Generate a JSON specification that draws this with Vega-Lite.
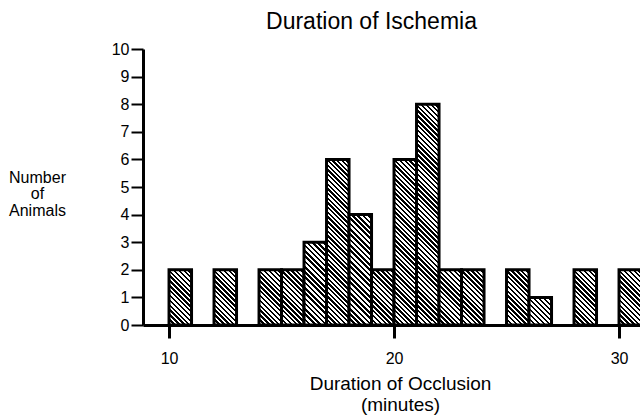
{
  "$schema": "https://vega.github.io/schema/vega-lite/v6.json",
  "width": 497,
  "height": 276,
  "autosize": {"type": "none"},
  "padding": {"left": 143, "top": 49, "right": 0, "bottom": 93},
  "background": "white",
  "config": {"view": {"stroke": null}, "font": "Liberation Sans"},
  "title": {"text": "Duration of Ischemia", "fontSize": 23, "fontWeight": "normal", "color": "black", "anchor": "middle", "dx": -20, "dy": 30, "offset": 14, "baseline": "bottom"},
  "data": {"values": [
    {"start": 10, "end": 11, "n": 2},
    {"start": 12, "end": 13, "n": 2},
    {"start": 14, "end": 15, "n": 2},
    {"start": 15, "end": 16, "n": 2},
    {"start": 16, "end": 17, "n": 3},
    {"start": 17, "end": 18, "n": 6},
    {"start": 18, "end": 19, "n": 4},
    {"start": 19, "end": 20, "n": 2},
    {"start": 20, "end": 21, "n": 6},
    {"start": 21, "end": 22, "n": 8},
    {"start": 22, "end": 23, "n": 2},
    {"start": 23, "end": 24, "n": 2},
    {"start": 25, "end": 26, "n": 2},
    {"start": 26, "end": 27, "n": 1},
    {"start": 28, "end": 29, "n": 2},
    {"start": 30, "end": 31, "n": 2}
  ]},
  "mark": {"type": "bar", "stroke": "black", "strokeWidth": 3, "strokeJoin": "miter"},
  "encoding": {
    "x": {
      "field": "start", "type": "quantitative",
      "scale": {"domain": [8.843, 30.932], "nice": false, "zero": false},
      "axis": {"values": [10, 20, 30], "title": ["Duration of Occlusion", "(minutes)"], "grid": false,
        "domainColor": "black", "domainWidth": 3, "tickColor": "black", "tickWidth": 3, "tickSize": 13,
        "labelFontSize": 16, "labelColor": "black", "labelPadding": 12, "labelFlush": false,
        "titleFontSize": 19, "titleFontWeight": "normal", "titleColor": "black",
        "titleX": 257, "titleY": 49, "titleBaseline": "top", "titleAlign": "center", "titleAnchor": null, "titleLineHeight": 21}
    },
    "x2": {"field": "end"},
    "y": {
      "field": "n", "type": "quantitative",
      "scale": {"domain": [0, 10], "nice": false},
      "axis": {"values": [0, 1, 2, 3, 4, 5, 6, 7, 8, 9, 10], "title": ["Number", "of", "Animals"], "grid": false,
        "domainColor": "black", "domainWidth": 3, "tickColor": "black", "tickWidth": 2, "tickSize": 12,
        "labelFontSize": 16, "labelColor": "black", "labelPadding": 2,
        "titleFontSize": 16, "titleFontWeight": "normal", "titleColor": "black", "titleAngle": 0,
        "titleX": -106, "titleY": 120, "titleBaseline": "top", "titleAlign": "center", "titleLineHeight": 16.5}
    },
    "y2": {"datum": 0},
    "fill": {
      "condition": [
        {"test": "datum.n === 1", "value": {"gradient": "linear", "x1": 0, "y1": 1, "x2": 0.889, "y2": -0.0905, "stops": [
          {"offset":0,"color":"#000"},
          {"offset":0.05,"color":"#000"},{"offset":0.05,"color":"#fff"},
          {"offset":0.1,"color":"#fff"},{"offset":0.1,"color":"#000"},
          {"offset":0.15,"color":"#000"},{"offset":0.15,"color":"#fff"},
          {"offset":0.2,"color":"#fff"},{"offset":0.2,"color":"#000"},
          {"offset":0.25,"color":"#000"},{"offset":0.25,"color":"#fff"},
          {"offset":0.3,"color":"#fff"},{"offset":0.3,"color":"#000"},
          {"offset":0.35,"color":"#000"},{"offset":0.35,"color":"#fff"},
          {"offset":0.4,"color":"#fff"},{"offset":0.4,"color":"#000"},
          {"offset":0.45,"color":"#000"},{"offset":0.45,"color":"#fff"},
          {"offset":0.5,"color":"#fff"},{"offset":0.5,"color":"#000"},
          {"offset":0.55,"color":"#000"},{"offset":0.55,"color":"#fff"},
          {"offset":0.6,"color":"#fff"},{"offset":0.6,"color":"#000"},
          {"offset":0.65,"color":"#000"},{"offset":0.65,"color":"#fff"},
          {"offset":0.7,"color":"#fff"},{"offset":0.7,"color":"#000"},
          {"offset":0.75,"color":"#000"},{"offset":0.75,"color":"#fff"},
          {"offset":0.8,"color":"#fff"},{"offset":0.8,"color":"#000"},
          {"offset":0.85,"color":"#000"},{"offset":0.85,"color":"#fff"},
          {"offset":0.9,"color":"#fff"},{"offset":0.9,"color":"#000"},
          {"offset":0.95,"color":"#000"},{"offset":0.95,"color":"#fff"},
          {"offset":1,"color":"#fff"}
        ]}},
        {"test": "datum.n === 3", "value": {"gradient": "linear", "x1": 0, "y1": 1, "x2": 0.3218, "y2": -0.1843, "stops": [
          {"offset":0,"color":"#000"},
          {"offset":0.025,"color":"#000"},{"offset":0.025,"color":"#fff"},
          {"offset":0.05,"color":"#fff"},{"offset":0.05,"color":"#000"},
          {"offset":0.075,"color":"#000"},{"offset":0.075,"color":"#fff"},
          {"offset":0.1,"color":"#fff"},{"offset":0.1,"color":"#000"},
          {"offset":0.125,"color":"#000"},{"offset":0.125,"color":"#fff"},
          {"offset":0.15,"color":"#fff"},{"offset":0.15,"color":"#000"},
          {"offset":0.175,"color":"#000"},{"offset":0.175,"color":"#fff"},
          {"offset":0.2,"color":"#fff"},{"offset":0.2,"color":"#000"},
          {"offset":0.225,"color":"#000"},{"offset":0.225,"color":"#fff"},
          {"offset":0.25,"color":"#fff"},{"offset":0.25,"color":"#000"},
          {"offset":0.275,"color":"#000"},{"offset":0.275,"color":"#fff"},
          {"offset":0.3,"color":"#fff"},{"offset":0.3,"color":"#000"},
          {"offset":0.325,"color":"#000"},{"offset":0.325,"color":"#fff"},
          {"offset":0.35,"color":"#fff"},{"offset":0.35,"color":"#000"},
          {"offset":0.375,"color":"#000"},{"offset":0.375,"color":"#fff"},
          {"offset":0.4,"color":"#fff"},{"offset":0.4,"color":"#000"},
          {"offset":0.425,"color":"#000"},{"offset":0.425,"color":"#fff"},
          {"offset":0.45,"color":"#fff"},{"offset":0.45,"color":"#000"},
          {"offset":0.475,"color":"#000"},{"offset":0.475,"color":"#fff"},
          {"offset":0.5,"color":"#fff"},{"offset":0.5,"color":"#000"},
          {"offset":0.525,"color":"#000"},{"offset":0.525,"color":"#fff"},
          {"offset":0.55,"color":"#fff"},{"offset":0.55,"color":"#000"},
          {"offset":0.575,"color":"#000"},{"offset":0.575,"color":"#fff"},
          {"offset":0.6,"color":"#fff"},{"offset":0.6,"color":"#000"},
          {"offset":0.625,"color":"#000"},{"offset":0.625,"color":"#fff"},
          {"offset":0.65,"color":"#fff"},{"offset":0.65,"color":"#000"},
          {"offset":0.675,"color":"#000"},{"offset":0.675,"color":"#fff"},
          {"offset":0.7,"color":"#fff"},{"offset":0.7,"color":"#000"},
          {"offset":0.725,"color":"#000"},{"offset":0.725,"color":"#fff"},
          {"offset":0.75,"color":"#fff"},{"offset":0.75,"color":"#000"},
          {"offset":0.775,"color":"#000"},{"offset":0.775,"color":"#fff"},
          {"offset":0.8,"color":"#fff"},{"offset":0.8,"color":"#000"},
          {"offset":0.825,"color":"#000"},{"offset":0.825,"color":"#fff"},
          {"offset":0.85,"color":"#fff"},{"offset":0.85,"color":"#000"},
          {"offset":0.875,"color":"#000"},{"offset":0.875,"color":"#fff"},
          {"offset":0.9,"color":"#fff"},{"offset":0.9,"color":"#000"},
          {"offset":0.925,"color":"#000"},{"offset":0.925,"color":"#fff"},
          {"offset":0.95,"color":"#fff"},{"offset":0.95,"color":"#000"},
          {"offset":0.975,"color":"#000"},{"offset":0.975,"color":"#fff"},
          {"offset":1,"color":"#fff"}
        ]}},
        {"test": "datum.n === 4", "value": {"gradient": "linear", "x1": 0, "y1": 1, "x2": 0.2356, "y2": -0.1558, "stops": [
          {"offset":0,"color":"#000"},
          {"offset":0.02,"color":"#000"},{"offset":0.02,"color":"#fff"},
          {"offset":0.04,"color":"#fff"},{"offset":0.04,"color":"#000"},
          {"offset":0.06,"color":"#000"},{"offset":0.06,"color":"#fff"},
          {"offset":0.08,"color":"#fff"},{"offset":0.08,"color":"#000"},
          {"offset":0.1,"color":"#000"},{"offset":0.1,"color":"#fff"},
          {"offset":0.12,"color":"#fff"},{"offset":0.12,"color":"#000"},
          {"offset":0.14,"color":"#000"},{"offset":0.14,"color":"#fff"},
          {"offset":0.16,"color":"#fff"},{"offset":0.16,"color":"#000"},
          {"offset":0.18,"color":"#000"},{"offset":0.18,"color":"#fff"},
          {"offset":0.2,"color":"#fff"},{"offset":0.2,"color":"#000"},
          {"offset":0.22,"color":"#000"},{"offset":0.22,"color":"#fff"},
          {"offset":0.24,"color":"#fff"},{"offset":0.24,"color":"#000"},
          {"offset":0.26,"color":"#000"},{"offset":0.26,"color":"#fff"},
          {"offset":0.28,"color":"#fff"},{"offset":0.28,"color":"#000"},
          {"offset":0.3,"color":"#000"},{"offset":0.3,"color":"#fff"},
          {"offset":0.32,"color":"#fff"},{"offset":0.32,"color":"#000"},
          {"offset":0.34,"color":"#000"},{"offset":0.34,"color":"#fff"},
          {"offset":0.36,"color":"#fff"},{"offset":0.36,"color":"#000"},
          {"offset":0.38,"color":"#000"},{"offset":0.38,"color":"#fff"},
          {"offset":0.4,"color":"#fff"},{"offset":0.4,"color":"#000"},
          {"offset":0.42,"color":"#000"},{"offset":0.42,"color":"#fff"},
          {"offset":0.44,"color":"#fff"},{"offset":0.44,"color":"#000"},
          {"offset":0.46,"color":"#000"},{"offset":0.46,"color":"#fff"},
          {"offset":0.48,"color":"#fff"},{"offset":0.48,"color":"#000"},
          {"offset":0.5,"color":"#000"},{"offset":0.5,"color":"#fff"},
          {"offset":0.52,"color":"#fff"},{"offset":0.52,"color":"#000"},
          {"offset":0.54,"color":"#000"},{"offset":0.54,"color":"#fff"},
          {"offset":0.56,"color":"#fff"},{"offset":0.56,"color":"#000"},
          {"offset":0.58,"color":"#000"},{"offset":0.58,"color":"#fff"},
          {"offset":0.6,"color":"#fff"},{"offset":0.6,"color":"#000"},
          {"offset":0.62,"color":"#000"},{"offset":0.62,"color":"#fff"},
          {"offset":0.64,"color":"#fff"},{"offset":0.64,"color":"#000"},
          {"offset":0.66,"color":"#000"},{"offset":0.66,"color":"#fff"},
          {"offset":0.68,"color":"#fff"},{"offset":0.68,"color":"#000"},
          {"offset":0.7,"color":"#000"},{"offset":0.7,"color":"#fff"},
          {"offset":0.72,"color":"#fff"},{"offset":0.72,"color":"#000"},
          {"offset":0.74,"color":"#000"},{"offset":0.74,"color":"#fff"},
          {"offset":0.76,"color":"#fff"},{"offset":0.76,"color":"#000"},
          {"offset":0.78,"color":"#000"},{"offset":0.78,"color":"#fff"},
          {"offset":0.8,"color":"#fff"},{"offset":0.8,"color":"#000"},
          {"offset":0.82,"color":"#000"},{"offset":0.82,"color":"#fff"},
          {"offset":0.84,"color":"#fff"},{"offset":0.84,"color":"#000"},
          {"offset":0.86,"color":"#000"},{"offset":0.86,"color":"#fff"},
          {"offset":0.88,"color":"#fff"},{"offset":0.88,"color":"#000"},
          {"offset":0.9,"color":"#000"},{"offset":0.9,"color":"#fff"},
          {"offset":0.92,"color":"#fff"},{"offset":0.92,"color":"#000"},
          {"offset":0.94,"color":"#000"},{"offset":0.94,"color":"#fff"},
          {"offset":0.96,"color":"#fff"},{"offset":0.96,"color":"#000"},
          {"offset":0.98,"color":"#000"},{"offset":0.98,"color":"#fff"},
          {"offset":1,"color":"#fff"}
        ]}},
        {"test": "datum.n === 6", "value": {"gradient": "linear", "x1": 0, "y1": 1, "x2": 0.1515, "y2": -0.1153, "stops": [
          {"offset":0,"color":"#000"},
          {"offset":0.0125,"color":"#000"},{"offset":0.0125,"color":"#fff"},
          {"offset":0.025,"color":"#fff"},{"offset":0.025,"color":"#000"},
          {"offset":0.0375,"color":"#000"},{"offset":0.0375,"color":"#fff"},
          {"offset":0.05,"color":"#fff"},{"offset":0.05,"color":"#000"},
          {"offset":0.0625,"color":"#000"},{"offset":0.0625,"color":"#fff"},
          {"offset":0.075,"color":"#fff"},{"offset":0.075,"color":"#000"},
          {"offset":0.0875,"color":"#000"},{"offset":0.0875,"color":"#fff"},
          {"offset":0.1,"color":"#fff"},{"offset":0.1,"color":"#000"},
          {"offset":0.1125,"color":"#000"},{"offset":0.1125,"color":"#fff"},
          {"offset":0.125,"color":"#fff"},{"offset":0.125,"color":"#000"},
          {"offset":0.1375,"color":"#000"},{"offset":0.1375,"color":"#fff"},
          {"offset":0.15,"color":"#fff"},{"offset":0.15,"color":"#000"},
          {"offset":0.1625,"color":"#000"},{"offset":0.1625,"color":"#fff"},
          {"offset":0.175,"color":"#fff"},{"offset":0.175,"color":"#000"},
          {"offset":0.1875,"color":"#000"},{"offset":0.1875,"color":"#fff"},
          {"offset":0.2,"color":"#fff"},{"offset":0.2,"color":"#000"},
          {"offset":0.2125,"color":"#000"},{"offset":0.2125,"color":"#fff"},
          {"offset":0.225,"color":"#fff"},{"offset":0.225,"color":"#000"},
          {"offset":0.2375,"color":"#000"},{"offset":0.2375,"color":"#fff"},
          {"offset":0.25,"color":"#fff"},{"offset":0.25,"color":"#000"},
          {"offset":0.2625,"color":"#000"},{"offset":0.2625,"color":"#fff"},
          {"offset":0.275,"color":"#fff"},{"offset":0.275,"color":"#000"},
          {"offset":0.2875,"color":"#000"},{"offset":0.2875,"color":"#fff"},
          {"offset":0.3,"color":"#fff"},{"offset":0.3,"color":"#000"},
          {"offset":0.3125,"color":"#000"},{"offset":0.3125,"color":"#fff"},
          {"offset":0.325,"color":"#fff"},{"offset":0.325,"color":"#000"},
          {"offset":0.3375,"color":"#000"},{"offset":0.3375,"color":"#fff"},
          {"offset":0.35,"color":"#fff"},{"offset":0.35,"color":"#000"},
          {"offset":0.3625,"color":"#000"},{"offset":0.3625,"color":"#fff"},
          {"offset":0.375,"color":"#fff"},{"offset":0.375,"color":"#000"},
          {"offset":0.3875,"color":"#000"},{"offset":0.3875,"color":"#fff"},
          {"offset":0.4,"color":"#fff"},{"offset":0.4,"color":"#000"},
          {"offset":0.4125,"color":"#000"},{"offset":0.4125,"color":"#fff"},
          {"offset":0.425,"color":"#fff"},{"offset":0.425,"color":"#000"},
          {"offset":0.4375,"color":"#000"},{"offset":0.4375,"color":"#fff"},
          {"offset":0.45,"color":"#fff"},{"offset":0.45,"color":"#000"},
          {"offset":0.4625,"color":"#000"},{"offset":0.4625,"color":"#fff"},
          {"offset":0.475,"color":"#fff"},{"offset":0.475,"color":"#000"},
          {"offset":0.4875,"color":"#000"},{"offset":0.4875,"color":"#fff"},
          {"offset":0.5,"color":"#fff"},{"offset":0.5,"color":"#000"},
          {"offset":0.5125,"color":"#000"},{"offset":0.5125,"color":"#fff"},
          {"offset":0.525,"color":"#fff"},{"offset":0.525,"color":"#000"},
          {"offset":0.5375,"color":"#000"},{"offset":0.5375,"color":"#fff"},
          {"offset":0.55,"color":"#fff"},{"offset":0.55,"color":"#000"},
          {"offset":0.5625,"color":"#000"},{"offset":0.5625,"color":"#fff"},
          {"offset":0.575,"color":"#fff"},{"offset":0.575,"color":"#000"},
          {"offset":0.5875,"color":"#000"},{"offset":0.5875,"color":"#fff"},
          {"offset":0.6,"color":"#fff"},{"offset":0.6,"color":"#000"},
          {"offset":0.6125,"color":"#000"},{"offset":0.6125,"color":"#fff"},
          {"offset":0.625,"color":"#fff"},{"offset":0.625,"color":"#000"},
          {"offset":0.6375,"color":"#000"},{"offset":0.6375,"color":"#fff"},
          {"offset":0.65,"color":"#fff"},{"offset":0.65,"color":"#000"},
          {"offset":0.6625,"color":"#000"},{"offset":0.6625,"color":"#fff"},
          {"offset":0.675,"color":"#fff"},{"offset":0.675,"color":"#000"},
          {"offset":0.6875,"color":"#000"},{"offset":0.6875,"color":"#fff"},
          {"offset":0.7,"color":"#fff"},{"offset":0.7,"color":"#000"},
          {"offset":0.7125,"color":"#000"},{"offset":0.7125,"color":"#fff"},
          {"offset":0.725,"color":"#fff"},{"offset":0.725,"color":"#000"},
          {"offset":0.7375,"color":"#000"},{"offset":0.7375,"color":"#fff"},
          {"offset":0.75,"color":"#fff"},{"offset":0.75,"color":"#000"},
          {"offset":0.7625,"color":"#000"},{"offset":0.7625,"color":"#fff"},
          {"offset":0.775,"color":"#fff"},{"offset":0.775,"color":"#000"},
          {"offset":0.7875,"color":"#000"},{"offset":0.7875,"color":"#fff"},
          {"offset":0.8,"color":"#fff"},{"offset":0.8,"color":"#000"},
          {"offset":0.8125,"color":"#000"},{"offset":0.8125,"color":"#fff"},
          {"offset":0.825,"color":"#fff"},{"offset":0.825,"color":"#000"},
          {"offset":0.8375,"color":"#000"},{"offset":0.8375,"color":"#fff"},
          {"offset":0.85,"color":"#fff"},{"offset":0.85,"color":"#000"},
          {"offset":0.8625,"color":"#000"},{"offset":0.8625,"color":"#fff"},
          {"offset":0.875,"color":"#fff"},{"offset":0.875,"color":"#000"},
          {"offset":0.8875,"color":"#000"},{"offset":0.8875,"color":"#fff"},
          {"offset":0.9,"color":"#fff"},{"offset":0.9,"color":"#000"},
          {"offset":0.9125,"color":"#000"},{"offset":0.9125,"color":"#fff"},
          {"offset":0.925,"color":"#fff"},{"offset":0.925,"color":"#000"},
          {"offset":0.9375,"color":"#000"},{"offset":0.9375,"color":"#fff"},
          {"offset":0.95,"color":"#fff"},{"offset":0.95,"color":"#000"},
          {"offset":0.9625,"color":"#000"},{"offset":0.9625,"color":"#fff"},
          {"offset":0.975,"color":"#fff"},{"offset":0.975,"color":"#000"},
          {"offset":0.9875,"color":"#000"},{"offset":0.9875,"color":"#fff"},
          {"offset":1,"color":"#fff"}
        ]}},
        {"test": "datum.n === 8", "value": {"gradient": "linear", "x1": 0, "y1": 1, "x2": 0.1111, "y2": -0.0906, "stops": [
          {"offset":0,"color":"#000"},
          {"offset":0.01,"color":"#000"},{"offset":0.01,"color":"#fff"},
          {"offset":0.02,"color":"#fff"},{"offset":0.02,"color":"#000"},
          {"offset":0.03,"color":"#000"},{"offset":0.03,"color":"#fff"},
          {"offset":0.04,"color":"#fff"},{"offset":0.04,"color":"#000"},
          {"offset":0.05,"color":"#000"},{"offset":0.05,"color":"#fff"},
          {"offset":0.06,"color":"#fff"},{"offset":0.06,"color":"#000"},
          {"offset":0.07,"color":"#000"},{"offset":0.07,"color":"#fff"},
          {"offset":0.08,"color":"#fff"},{"offset":0.08,"color":"#000"},
          {"offset":0.09,"color":"#000"},{"offset":0.09,"color":"#fff"},
          {"offset":0.1,"color":"#fff"},{"offset":0.1,"color":"#000"},
          {"offset":0.11,"color":"#000"},{"offset":0.11,"color":"#fff"},
          {"offset":0.12,"color":"#fff"},{"offset":0.12,"color":"#000"},
          {"offset":0.13,"color":"#000"},{"offset":0.13,"color":"#fff"},
          {"offset":0.14,"color":"#fff"},{"offset":0.14,"color":"#000"},
          {"offset":0.15,"color":"#000"},{"offset":0.15,"color":"#fff"},
          {"offset":0.16,"color":"#fff"},{"offset":0.16,"color":"#000"},
          {"offset":0.17,"color":"#000"},{"offset":0.17,"color":"#fff"},
          {"offset":0.18,"color":"#fff"},{"offset":0.18,"color":"#000"},
          {"offset":0.19,"color":"#000"},{"offset":0.19,"color":"#fff"},
          {"offset":0.2,"color":"#fff"},{"offset":0.2,"color":"#000"},
          {"offset":0.21,"color":"#000"},{"offset":0.21,"color":"#fff"},
          {"offset":0.22,"color":"#fff"},{"offset":0.22,"color":"#000"},
          {"offset":0.23,"color":"#000"},{"offset":0.23,"color":"#fff"},
          {"offset":0.24,"color":"#fff"},{"offset":0.24,"color":"#000"},
          {"offset":0.25,"color":"#000"},{"offset":0.25,"color":"#fff"},
          {"offset":0.26,"color":"#fff"},{"offset":0.26,"color":"#000"},
          {"offset":0.27,"color":"#000"},{"offset":0.27,"color":"#fff"},
          {"offset":0.28,"color":"#fff"},{"offset":0.28,"color":"#000"},
          {"offset":0.29,"color":"#000"},{"offset":0.29,"color":"#fff"},
          {"offset":0.3,"color":"#fff"},{"offset":0.3,"color":"#000"},
          {"offset":0.31,"color":"#000"},{"offset":0.31,"color":"#fff"},
          {"offset":0.32,"color":"#fff"},{"offset":0.32,"color":"#000"},
          {"offset":0.33,"color":"#000"},{"offset":0.33,"color":"#fff"},
          {"offset":0.34,"color":"#fff"},{"offset":0.34,"color":"#000"},
          {"offset":0.35,"color":"#000"},{"offset":0.35,"color":"#fff"},
          {"offset":0.36,"color":"#fff"},{"offset":0.36,"color":"#000"},
          {"offset":0.37,"color":"#000"},{"offset":0.37,"color":"#fff"},
          {"offset":0.38,"color":"#fff"},{"offset":0.38,"color":"#000"},
          {"offset":0.39,"color":"#000"},{"offset":0.39,"color":"#fff"},
          {"offset":0.4,"color":"#fff"},{"offset":0.4,"color":"#000"},
          {"offset":0.41,"color":"#000"},{"offset":0.41,"color":"#fff"},
          {"offset":0.42,"color":"#fff"},{"offset":0.42,"color":"#000"},
          {"offset":0.43,"color":"#000"},{"offset":0.43,"color":"#fff"},
          {"offset":0.44,"color":"#fff"},{"offset":0.44,"color":"#000"},
          {"offset":0.45,"color":"#000"},{"offset":0.45,"color":"#fff"},
          {"offset":0.46,"color":"#fff"},{"offset":0.46,"color":"#000"},
          {"offset":0.47,"color":"#000"},{"offset":0.47,"color":"#fff"},
          {"offset":0.48,"color":"#fff"},{"offset":0.48,"color":"#000"},
          {"offset":0.49,"color":"#000"},{"offset":0.49,"color":"#fff"},
          {"offset":0.5,"color":"#fff"},{"offset":0.5,"color":"#000"},
          {"offset":0.51,"color":"#000"},{"offset":0.51,"color":"#fff"},
          {"offset":0.52,"color":"#fff"},{"offset":0.52,"color":"#000"},
          {"offset":0.53,"color":"#000"},{"offset":0.53,"color":"#fff"},
          {"offset":0.54,"color":"#fff"},{"offset":0.54,"color":"#000"},
          {"offset":0.55,"color":"#000"},{"offset":0.55,"color":"#fff"},
          {"offset":0.56,"color":"#fff"},{"offset":0.56,"color":"#000"},
          {"offset":0.57,"color":"#000"},{"offset":0.57,"color":"#fff"},
          {"offset":0.58,"color":"#fff"},{"offset":0.58,"color":"#000"},
          {"offset":0.59,"color":"#000"},{"offset":0.59,"color":"#fff"},
          {"offset":0.6,"color":"#fff"},{"offset":0.6,"color":"#000"},
          {"offset":0.61,"color":"#000"},{"offset":0.61,"color":"#fff"},
          {"offset":0.62,"color":"#fff"},{"offset":0.62,"color":"#000"},
          {"offset":0.63,"color":"#000"},{"offset":0.63,"color":"#fff"},
          {"offset":0.64,"color":"#fff"},{"offset":0.64,"color":"#000"},
          {"offset":0.65,"color":"#000"},{"offset":0.65,"color":"#fff"},
          {"offset":0.66,"color":"#fff"},{"offset":0.66,"color":"#000"},
          {"offset":0.67,"color":"#000"},{"offset":0.67,"color":"#fff"},
          {"offset":0.68,"color":"#fff"},{"offset":0.68,"color":"#000"},
          {"offset":0.69,"color":"#000"},{"offset":0.69,"color":"#fff"},
          {"offset":0.7,"color":"#fff"},{"offset":0.7,"color":"#000"},
          {"offset":0.71,"color":"#000"},{"offset":0.71,"color":"#fff"},
          {"offset":0.72,"color":"#fff"},{"offset":0.72,"color":"#000"},
          {"offset":0.73,"color":"#000"},{"offset":0.73,"color":"#fff"},
          {"offset":0.74,"color":"#fff"},{"offset":0.74,"color":"#000"},
          {"offset":0.75,"color":"#000"},{"offset":0.75,"color":"#fff"},
          {"offset":0.76,"color":"#fff"},{"offset":0.76,"color":"#000"},
          {"offset":0.77,"color":"#000"},{"offset":0.77,"color":"#fff"},
          {"offset":0.78,"color":"#fff"},{"offset":0.78,"color":"#000"},
          {"offset":0.79,"color":"#000"},{"offset":0.79,"color":"#fff"},
          {"offset":0.8,"color":"#fff"},{"offset":0.8,"color":"#000"},
          {"offset":0.81,"color":"#000"},{"offset":0.81,"color":"#fff"},
          {"offset":0.82,"color":"#fff"},{"offset":0.82,"color":"#000"},
          {"offset":0.83,"color":"#000"},{"offset":0.83,"color":"#fff"},
          {"offset":0.84,"color":"#fff"},{"offset":0.84,"color":"#000"},
          {"offset":0.85,"color":"#000"},{"offset":0.85,"color":"#fff"},
          {"offset":0.86,"color":"#fff"},{"offset":0.86,"color":"#000"},
          {"offset":0.87,"color":"#000"},{"offset":0.87,"color":"#fff"},
          {"offset":0.88,"color":"#fff"},{"offset":0.88,"color":"#000"},
          {"offset":0.89,"color":"#000"},{"offset":0.89,"color":"#fff"},
          {"offset":0.9,"color":"#fff"},{"offset":0.9,"color":"#000"},
          {"offset":0.91,"color":"#000"},{"offset":0.91,"color":"#fff"},
          {"offset":0.92,"color":"#fff"},{"offset":0.92,"color":"#000"},
          {"offset":0.93,"color":"#000"},{"offset":0.93,"color":"#fff"},
          {"offset":0.94,"color":"#fff"},{"offset":0.94,"color":"#000"},
          {"offset":0.95,"color":"#000"},{"offset":0.95,"color":"#fff"},
          {"offset":0.96,"color":"#fff"},{"offset":0.96,"color":"#000"},
          {"offset":0.97,"color":"#000"},{"offset":0.97,"color":"#fff"},
          {"offset":0.98,"color":"#fff"},{"offset":0.98,"color":"#000"},
          {"offset":0.99,"color":"#000"},{"offset":0.99,"color":"#fff"},
          {"offset":1,"color":"#fff"}
        ]}}
      ],
      "value": {"gradient": "linear", "x1": 0, "y1": 1, "x2": 0.492, "y2": -0.2071, "stops": [
        {"offset":0,"color":"#000"},
        {"offset":0.03125,"color":"#000"},{"offset":0.03125,"color":"#fff"},
        {"offset":0.0625,"color":"#fff"},{"offset":0.0625,"color":"#000"},
        {"offset":0.09375,"color":"#000"},{"offset":0.09375,"color":"#fff"},
        {"offset":0.125,"color":"#fff"},{"offset":0.125,"color":"#000"},
        {"offset":0.15625,"color":"#000"},{"offset":0.15625,"color":"#fff"},
        {"offset":0.1875,"color":"#fff"},{"offset":0.1875,"color":"#000"},
        {"offset":0.21875,"color":"#000"},{"offset":0.21875,"color":"#fff"},
        {"offset":0.25,"color":"#fff"},{"offset":0.25,"color":"#000"},
        {"offset":0.28125,"color":"#000"},{"offset":0.28125,"color":"#fff"},
        {"offset":0.3125,"color":"#fff"},{"offset":0.3125,"color":"#000"},
        {"offset":0.34375,"color":"#000"},{"offset":0.34375,"color":"#fff"},
        {"offset":0.375,"color":"#fff"},{"offset":0.375,"color":"#000"},
        {"offset":0.40625,"color":"#000"},{"offset":0.40625,"color":"#fff"},
        {"offset":0.4375,"color":"#fff"},{"offset":0.4375,"color":"#000"},
        {"offset":0.46875,"color":"#000"},{"offset":0.46875,"color":"#fff"},
        {"offset":0.5,"color":"#fff"},{"offset":0.5,"color":"#000"},
        {"offset":0.53125,"color":"#000"},{"offset":0.53125,"color":"#fff"},
        {"offset":0.5625,"color":"#fff"},{"offset":0.5625,"color":"#000"},
        {"offset":0.59375,"color":"#000"},{"offset":0.59375,"color":"#fff"},
        {"offset":0.625,"color":"#fff"},{"offset":0.625,"color":"#000"},
        {"offset":0.65625,"color":"#000"},{"offset":0.65625,"color":"#fff"},
        {"offset":0.6875,"color":"#fff"},{"offset":0.6875,"color":"#000"},
        {"offset":0.71875,"color":"#000"},{"offset":0.71875,"color":"#fff"},
        {"offset":0.75,"color":"#fff"},{"offset":0.75,"color":"#000"},
        {"offset":0.78125,"color":"#000"},{"offset":0.78125,"color":"#fff"},
        {"offset":0.8125,"color":"#fff"},{"offset":0.8125,"color":"#000"},
        {"offset":0.84375,"color":"#000"},{"offset":0.84375,"color":"#fff"},
        {"offset":0.875,"color":"#fff"},{"offset":0.875,"color":"#000"},
        {"offset":0.90625,"color":"#000"},{"offset":0.90625,"color":"#fff"},
        {"offset":0.9375,"color":"#fff"},{"offset":0.9375,"color":"#000"},
        {"offset":0.96875,"color":"#000"},{"offset":0.96875,"color":"#fff"},
        {"offset":1,"color":"#fff"}
      ]}
    }
  }
}
